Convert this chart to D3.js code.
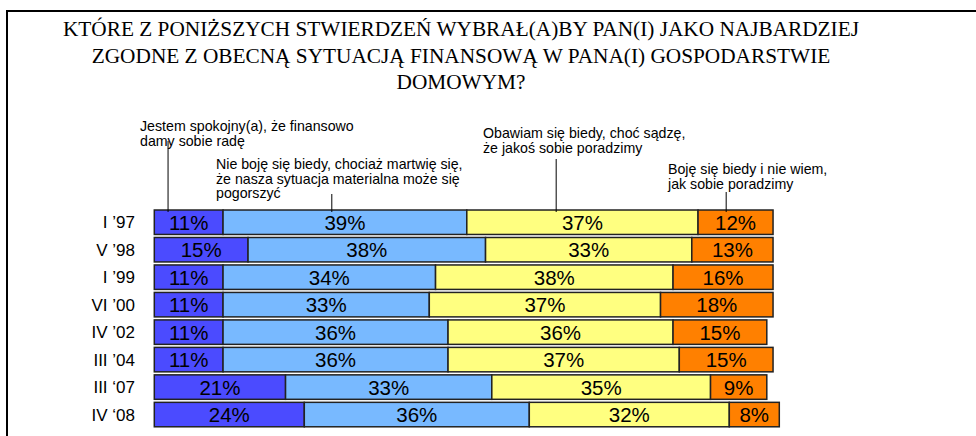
<!DOCTYPE html>
<html>
<head>
<meta charset="utf-8">
<script src="https://cdn.jsdelivr.net/npm/d3@7"></script>
<style>
  body { margin: 0; background: #fff; }
  svg { display: block; }
  .title { font-family: "Liberation Serif", "Times New Roman", serif; font-size: 21.3px; fill: #000; }
  .note { font-family: "Liberation Sans", Arial, sans-serif; font-size: 14.2px; fill: #000; }
  .cat { font-family: "Liberation Sans", Arial, sans-serif; font-size: 17px; fill: #000; }
  .pct { font-family: "Liberation Sans", Arial, sans-serif; font-size: 20.5px; fill: #000; }
</style>
</head>
<body>
<svg id="chart"></svg>
<script>
const periods = ["I \u201997", "V \u201998", "I \u201999", "VI \u201900", "IV \u201902", "III \u201904", "III \u201807", "IV \u201808"];
const calm = [11, 15, 11, 11, 11, 11, 21, 24];
const notAfraid = [39, 38, 34, 33, 36, 36, 33, 36];
const afraidButCope = [37, 33, 38, 37, 36, 37, 35, 32];
const afraidNoCope = [12, 13, 16, 18, 15, 15, 9, 8];

const seriesNames = ["calm", "notAfraid", "afraidButCope", "afraidNoCope"];
const seriesColors = ["#4b4bff", "#78b9ff", "#ffff80", "#ff8000"];

const titleLines = [
  "KTÓRE Z PONIŻSZYCH STWIERDZEŃ WYBRAŁ(A)BY PAN(I) JAKO NAJBARDZIEJ",
  "ZGODNE Z OBECNĄ SYTUACJĄ FINANSOWĄ W PANA(I) GOSPODARSTWIE",
  "DOMOWYM?"
];

// legend callouts: text lines, where the text sits, and where the leader hits the first bar (in %)
const notes = [
  { lines: ["Jestem spokojny(a), że finansowo", "damy sobie radę"], x: 140, y: 131, at: 2.2, from: 141 },
  { lines: ["Nie boję się biedy, chociaż martwię się,", "że nasza sytuacja materialna może się", "pogorszyć"], x: 216, y: 169, at: 28.4, from: 194 },
  { lines: ["Obawiam się biedy, choć sądzę,", "że jakoś sobie poradzimy"], x: 483, y: 138, at: 64.3, from: 159 },
  { lines: ["Boję się biedy i nie wiem,", "jak sobie poradzimy"], x: 668, y: 174, at: 91.5, from: 192 }
];

const width = 976;
const height = 436;

const svg = d3.select("#chart").attr("width", width).attr("height", height);

// outer frame (runs off the right and bottom edges)
svg.append("rect")
  .attr("x", 7).attr("y", 11)
  .attr("width", 1000).attr("height", 500)
  .attr("fill", "none").attr("stroke", "#000").attr("stroke-width", 2);

svg.append("g").selectAll("text")
  .data(titleLines)
  .join("text")
  .attr("class", "title")
  .attr("x", 461)
  .attr("y", (d, i) => 36 + i * 26.5)
  .attr("text-anchor", "middle")
  .text(d => d);

const x = d3.scaleLinear().domain([0, 100]).range([154.3, 779.3]);
const y = d3.scaleBand().domain(periods).range([208.5, 428.3]).paddingInner(0.11).paddingOuter(0.055);

const rows = periods.map((p, i) => ({ period: p, calm: calm[i], notAfraid: notAfraid[i], afraidButCope: afraidButCope[i], afraidNoCope: afraidNoCope[i] }));
const stacked = d3.stack().keys(seriesNames)(rows);

const layer = svg.append("g").selectAll("g")
  .data(stacked)
  .join("g")
  .attr("fill", (d, i) => seriesColors[i]);

layer.selectAll("rect")
  .data(d => d)
  .join("rect")
  .attr("x", d => x(d[0]))
  .attr("y", d => y(d.data.period))
  .attr("width", d => x(d[1]) - x(d[0]))
  .attr("height", y.bandwidth())
  .attr("stroke", "#222")
  .attr("stroke-width", 1.5);

layer.selectAll("text")
  .data(d => d)
  .join("text")
  .attr("class", "pct")
  .attr("x", d => (x(d[0]) + x(d[1])) / 2)
  .attr("y", d => y(d.data.period) + y.bandwidth() / 2 + 7.5)
  .attr("text-anchor", "middle")
  .text(d => (d[1] - d[0]) + "%");

svg.append("g").selectAll("text")
  .data(periods)
  .join("text")
  .attr("class", "cat")
  .attr("x", 135)
  .attr("y", d => y(d) + y.bandwidth() / 2 + 6)
  .attr("text-anchor", "end")
  .text(d => d);

const note = svg.append("g").selectAll("g")
  .data(notes)
  .join("g");

note.append("line")
  .attr("x1", d => x(d.at)).attr("x2", d => x(d.at))
  .attr("y1", d => d.from)
  .attr("y2", y(periods[0]) + 2)
  .attr("stroke", "#000").attr("stroke-width", 1);

note.append("text")
  .attr("class", "note")
  .selectAll("tspan")
  .data(d => d.lines.map((l, i) => ({ l, i, x: d.x, y: d.y })))
  .join("tspan")
  .attr("x", d => d.x)
  .attr("y", d => d.y + d.i * 14.5)
  .text(d => d.l);
</script>
</body>
</html>
